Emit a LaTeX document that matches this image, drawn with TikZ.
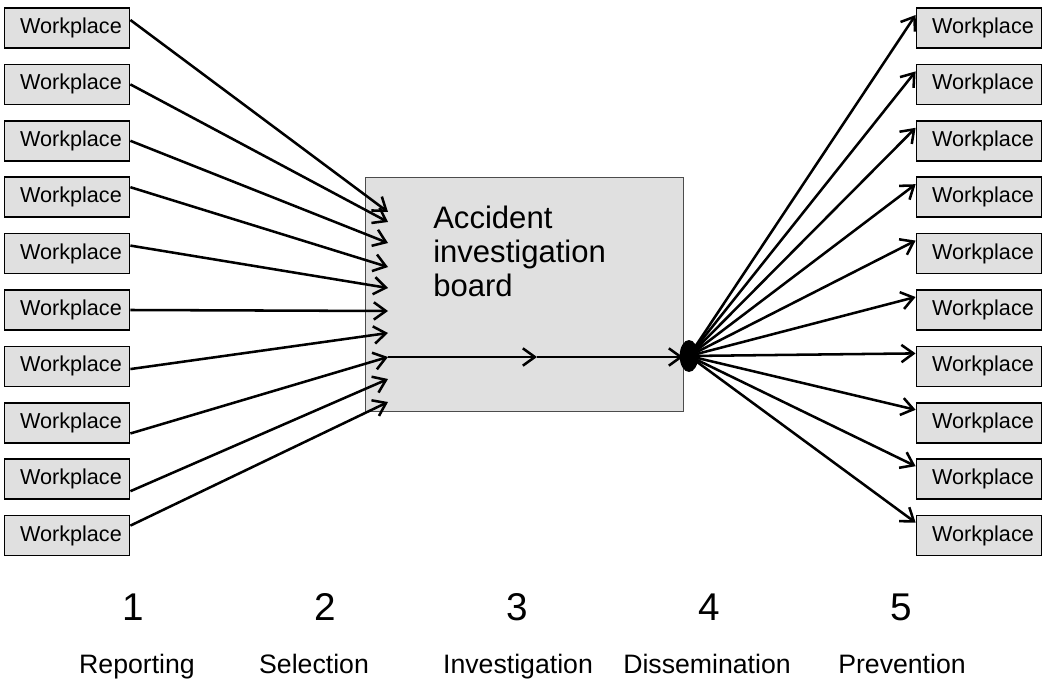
\documentclass[tikz,border=0pt]{standalone}
\usepackage{fontspec}
\setmainfont{Liberation Sans}
\usepackage{xcolor}
\usetikzlibrary{
    arrows.meta,
    positioning
}
\definecolor{boxgray}{RGB}{224,224,224}
\tikzset{
    workbox/.style={
        rectangle,
        draw=black,
        line width=1.1pt,
        fill=boxgray,
        minimum width=94pt,
        minimum height=30pt,
        inner sep=0pt,
        execute at begin node={\hspace*{6pt}},
        font=\fontsize{16.2}{18}\selectfont
    },
    boardbox/.style={
        rectangle,
        draw=black!70,
        line width=0.8pt,
        fill=boxgray,
        minimum width=238.5pt,
        minimum height=176pt
    },
    boardtext/.style={
        align=left,
        inner sep=0pt,
        font=\fontsize{23.3}{25.5}\selectfont
    },
    arrow/.style={
        -{Straight Barb[length=9pt,width=13pt]},
        line width=1.9pt
    },
    stepnum/.style={
        anchor=base,
        font=\fontsize{29}{32}\selectfont
    },
    steplabel/.style={
        anchor=base,
        font=\fontsize{20}{24}\selectfont
    }
}

\begin{document}
\begin{tikzpicture}[x=0.75pt, y=-0.75pt, node distance=11.2pt]
\useasboundingbox (0,0) rectangle (1043,681);

% workplaces reporting
\node[workbox] (L1) at (67,28) {Workplace};
\node[workbox, below=of L1] (L2) {Workplace};
\node[workbox, below=of L2] (L3) {Workplace};
\node[workbox, below=of L3] (L4) {Workplace};
\node[workbox, below=of L4] (L5) {Workplace};
\node[workbox, below=of L5] (L6) {Workplace};
\node[workbox, below=of L6] (L7) {Workplace};
\node[workbox, below=of L7] (L8) {Workplace};
\node[workbox, below=of L8] (L9) {Workplace};
\node[workbox, below=of L9] (L10) {Workplace};

% workplaces receiving
\node[workbox] (R1) at (979,28) {Workplace};
\node[workbox, below=of R1] (R2) {Workplace};
\node[workbox, below=of R2] (R3) {Workplace};
\node[workbox, below=of R3] (R4) {Workplace};
\node[workbox, below=of R4] (R5) {Workplace};
\node[workbox, below=of R5] (R6) {Workplace};
\node[workbox, below=of R6] (R7) {Workplace};
\node[workbox, below=of R7] (R8) {Workplace};
\node[workbox, below=of R8] (R9) {Workplace};
\node[workbox, below=of R9] (R10) {Workplace};

% board
\node[boardbox] (board) at (524.5,294.5) {};
\node[boardtext, anchor=north west] (boardlabel) at (433,206) {Accident\\investigation\\board};

\coordinate (in1) at (388,212);
\coordinate (in2) at (388,222);
\coordinate (in3) at (388,243);
\coordinate (in4) at (388,267);
\coordinate (in5) at (388,288);
\coordinate (in6) at (388,311);
\coordinate (in7) at (388,333);
\coordinate (in8) at (388,357);
\coordinate (in9) at (388,379);
\coordinate (in10) at (388,402);
\coordinate (mid) at (537,357);
\coordinate (out) at (683,357);
\coordinate (hub) at (689,356);

\draw[arrow] ([yshift=6pt]L1.east) -- (in1);
\draw[arrow] (L2.east) -- (in2);
\draw[arrow] (L3.east) -- (in3);
\draw[arrow] ([yshift=7.5pt]L4.east) -- (in4);
\draw[arrow] ([yshift=6pt]L5.east) -- (in5);
\draw[arrow] (L6.east) -- (in6);
\draw[arrow] ([yshift=-2pt]L7.east) -- (in7);
\draw[arrow] ([yshift=-8pt]L8.east) -- (in8);
\draw[arrow] ([yshift=-9pt]L9.east) -- (in9);
\draw[arrow] ([yshift=7.5pt]L10.east) -- (in10);

\draw[arrow] (in8) -- (mid);
\draw[arrow] (mid) -- (out);
\fill (hub) ellipse (7pt and 12pt);

\draw[arrow] (hub) -- ([yshift=9.75pt]R1.west);
\draw[arrow] (hub) -- ([yshift=9.75pt]R2.west);
\draw[arrow] (hub) -- ([yshift=9.75pt]R3.west);
\draw[arrow] (hub) -- ([yshift=9.75pt]R4.west);
\draw[arrow] (hub) -- ([yshift=9.75pt]R5.west);
\draw[arrow] (hub) -- ([yshift=9.75pt]R6.west);
\draw[arrow] (hub) -- ([yshift=9.75pt]R7.west);
\draw[arrow] (hub) -- ([yshift=9.75pt]R8.west);
\draw[arrow] (hub) -- ([yshift=9.75pt]R9.west);
\draw[arrow] (hub) -- ([yshift=9.75pt]R10.west);

% stages
\node[stepnum] (n1) at (133,620) {1};
\node[stepnum] (n2) at (325,620) {2};
\node[stepnum] (n3) at (517,620) {3};
\node[stepnum] (n4) at (709,620) {4};
\node[stepnum] (n5) at (901,620) {5};
\node[steplabel] (s1) at (137,673) {Reporting};
\node[steplabel] (s2) at (314,673) {Selection};
\node[steplabel] (s3) at (518,673) {Investigation};
\node[steplabel] (s4) at (707,673) {Dissemination};
\node[steplabel] (s5) at (902,673) {Prevention};
\end{tikzpicture}
\end{document}
